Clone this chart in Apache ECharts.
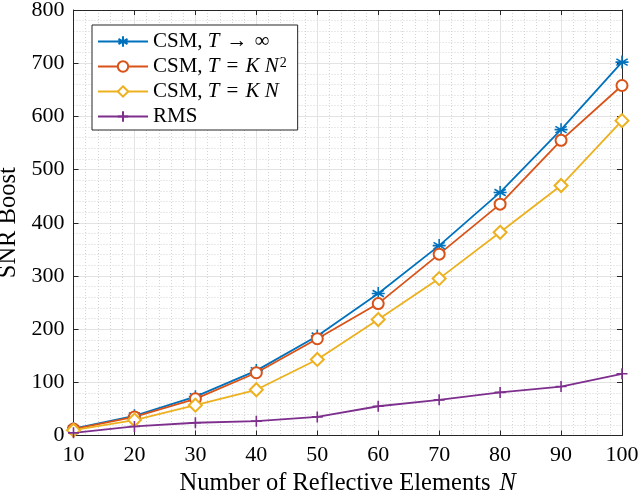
<!DOCTYPE html>
<html><head><meta charset="utf-8">
<script src="https://cdn.jsdelivr.net/npm/echarts@6/dist/echarts.min.js"></script>
<style>html,body{margin:0;padding:0;background:#fff}#c{width:640px;height:494px}</style>
</head><body><div id="c"></div>
<script>
const xValues = [10, 20, 30, 40, 50, 60, 70, 80, 90, 100];
const csmInf = [13, 37, 73, 122, 187, 267, 357, 457, 575, 702];
const csmKN2 = [12, 35, 69, 118, 182, 248, 341, 435, 555, 658];
const csmKN  = [10, 29, 57, 86, 143, 218, 295, 382, 470, 592];
const rms    = [5, 17, 24, 27, 35, 55, 67, 81, 92, 116];
const seriesNames = ['CSM, T → ∞', 'CSM, T = KN²', 'CSM, T = KN', 'RMS'];

const FONT = 'Liberation Serif, DejaVu Serif, serif';
const colors = ['#0072BD', '#D95319', '#EDB120', '#7E2F8E'];
const pairs = v => xValues.map((x, i) => [x, v[i]]);

const asterisk = 'path://M0,-10L0,10M-8.66,-5L8.66,5M-8.66,5L8.66,-5M-10,0L10,0';
const plus = 'path://M0,-10L0,10M-10,0L10,0';

function mk(name, data, color, symbol, size) {
  return {
    name, type: 'line', data: pairs(data), xAxisIndex: 0, yAxisIndex: 0,
    symbol, symbolSize: size, symbolKeepAspect: true, showSymbol: true,
    lineStyle: {color, width: 1.8},
    itemStyle: {color, borderColor: color, borderWidth: 1.6},
    emphasis: {disabled: true}, animation: false
  };
}

const LF = 21;
const legendRich = {
  r: {fontFamily: FONT, fontSize: LF, color: '#000'},
  i: {fontFamily: FONT, fontSize: LF, fontStyle: 'italic', color: '#000'},
  o: {fontFamily: FONT, fontSize: LF, color: '#000', padding: [0, 7, 0, 7]},
  s: {fontFamily: FONT, fontSize: 14, color: '#000', verticalAlign: 'top', padding: [0, 0, 8, 1]}
};
function legendFmt(n) {
  if (n === seriesNames[0]) return '{r|CSM, }{i|T}{o|→}{r|∞}';
  if (n === seriesNames[1]) return '{r|CSM, }{i|T}{o|=}{i|K N}{s|2}';
  if (n === seriesNames[2]) return '{r|CSM, }{i|T}{o|=}{i|K N}';
  return '{r|RMS}';
}

const axisCol = '#262626';
const gridMajor = {show: true, lineStyle: {color: '#e3e3e3', width: 1}};
const gridMinor = {show: true, lineStyle: {color: '#d4d4d4', width: 1, type: [1, 2]}};

const chart = echarts.init(document.getElementById('c'), null, {renderer: 'canvas'});
chart.setOption({
  backgroundColor: '#fff',
  animation: false,
  grid: {left: 73.5, right: 18, top: 10, bottom: 58.5, containLabel: false, outerBoundsMode: 'none'},
  legend: {
    orient: 'vertical', left: 92, top: 25,
    data: seriesNames,
    itemWidth: 50, itemHeight: 13, itemGap: 4,
    padding: [6, 11, 3, 5],
    backgroundColor: '#fff', borderColor: axisCol, borderWidth: 1,
    formatter: legendFmt,
    textStyle: {fontFamily: FONT, fontSize: LF, lineHeight: 20, rich: legendRich},
    selectedMode: false
  },
  xAxis: [{
    type: 'value', position: 'bottom', min: 10, max: 100, interval: 10,
    axisLine: {show: true, onZero: false, lineStyle: {color: axisCol, width: 1}},
    axisTick: {show: true, inside: true, length: 5, lineStyle: {color: axisCol}},
    axisLabel: {fontFamily: FONT, fontSize: 22, color: '#000', margin: 9},
    splitLine: gridMajor,
    minorTick: {show: false, splitNumber: 5},
    minorSplitLine: gridMinor,
    name: '{r|Number of Reflective Elements }{i|N}',
    nameLocation: 'middle', nameGap: 34,
    nameTextStyle: {rich: {
      r: {fontFamily: FONT, fontSize: 24.5, color: '#000'},
      i: {fontFamily: FONT, fontSize: 24.5, fontStyle: 'italic', color: '#000', padding: [0, 0, 0, 3]}
    }}
  }, {
    type: 'value', position: 'top', min: 10, max: 100, interval: 10,
    axisLine: {show: true, onZero: false, lineStyle: {color: axisCol, width: 1}},
    axisTick: {show: true, inside: true, length: 5, lineStyle: {color: axisCol}},
    axisLabel: {show: false}, splitLine: {show: false}
  }],
  yAxis: [{
    type: 'value', position: 'left', min: 0, max: 800, interval: 100,
    axisLine: {show: true, onZero: false, lineStyle: {color: axisCol, width: 1}},
    axisTick: {show: true, inside: true, length: 5, lineStyle: {color: axisCol}},
    axisLabel: {fontFamily: FONT, fontSize: 22, color: '#000', margin: 9},
    splitLine: gridMajor,
    minorTick: {show: false, splitNumber: 5},
    minorSplitLine: gridMinor,
    name: 'SNR Boost', nameLocation: 'middle', nameGap: 50,
    nameTextStyle: {fontFamily: FONT, fontSize: 24.5, color: '#000'}
  }, {
    type: 'value', position: 'right', min: 0, max: 800, interval: 100,
    axisLine: {show: true, onZero: false, lineStyle: {color: axisCol, width: 1}},
    axisTick: {show: true, inside: true, length: 5, lineStyle: {color: axisCol}},
    axisLabel: {show: false}, splitLine: {show: false}
  }],
  series: [
    mk(seriesNames[0], csmInf, colors[0], asterisk, 13),
    mk(seriesNames[1], csmKN2, colors[1], 'emptyCircle', 11),
    mk(seriesNames[2], csmKN, colors[2], 'emptyDiamond', 13),
    mk(seriesNames[3], rms, colors[3], plus, 11)
  ]
});
</script></body></html>
